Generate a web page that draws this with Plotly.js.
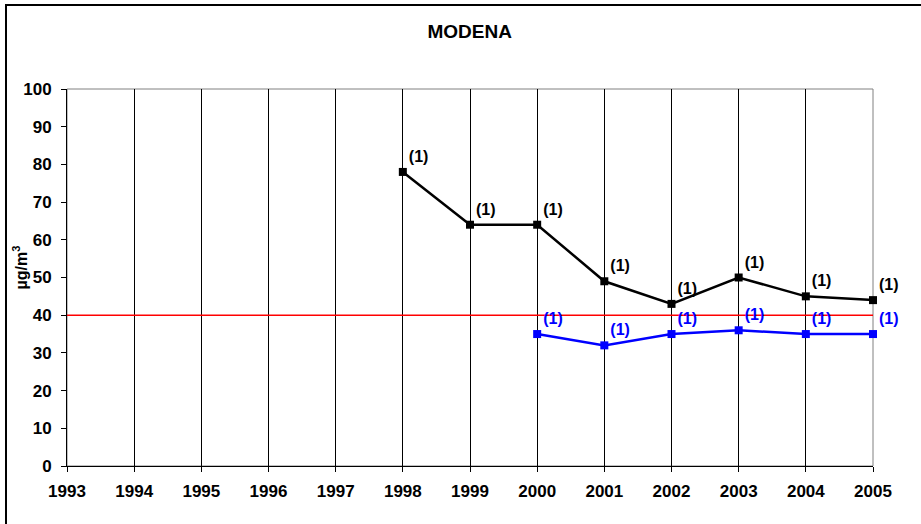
<!DOCTYPE html>
<html>
<head>
<meta charset="utf-8">
<script src="https://cdn.plot.ly/plotly-3.0.1.min.js"></script>
<style>
html,body{margin:0;padding:0;background:#fff;}
#chart{width:921px;height:524px;}
</style>
</head>
<body>
<div id="chart"></div>
<script>
const years = [1993,1994,1995,1996,1997,1998,1999,2000,2001,2002,2003,2004,2005];
const blackYears = [1998,1999,2000,2001,2002,2003,2004,2005];
const blackValues = [78,64,64,49,43,50,45,44];
const blackLabels = ['(1)','(1)','(1)','(1)','(1)','(1)','(1)','(1)'];
const blueYears = [2000,2001,2002,2003,2004,2005];
const blueValues = [35,32,35,36,35,35];
const blueLabels = ['(1)','(1)','(1)','(1)','(1)','(1)'];
const limitYears = [1993,2005];
const limitValues = [40,40];
const yTicks = [0,10,20,30,40,50,60,70,80,90,100];

const FAM = 'Liberation Sans, Arial, sans-serif';
const lblFont = {family:FAM, size:17, color:'#000', weight:'bold'};

const traces = [
  {x:limitYears, y:limitValues, mode:'lines', line:{color:'#FF0000', width:1.6}, hoverinfo:'skip', cliponaxis:false},
  {x:blackYears, y:blackValues, mode:'lines+markers+text', text:blackLabels, textposition:'top right',
   textfont:{family:FAM, size:16, color:'#000', weight:'bold'},
   line:{color:'#000', width:2.5}, marker:{symbol:'square', size:8, color:'#000'}, cliponaxis:false},
  {x:blueYears, y:blueValues, mode:'lines+markers+text', text:blueLabels, textposition:'top right',
   textfont:{family:FAM, size:16, color:'#0000FF', weight:'bold'},
   line:{color:'#0000FF', width:2.5}, marker:{symbol:'square', size:8, color:'#0000FF'}, cliponaxis:false}
];

const layout = {
  width:921, height:524,
  margin:{l:67, r:48, t:89, b:58},
  paper_bgcolor:'#fff', plot_bgcolor:'#fff',
  showlegend:false,
  font:{family:FAM, size:16, color:'#000'},
  title:{text:'<b>MODENA</b>', x:0.51, xanchor:'center', y:0.94, yanchor:'middle',
         font:{family:FAM, size:19, color:'#000'}},
  xaxis:{range:[1993,2005], tickvals:years, ticktext:years.map(y=>'<b>'+y+'</b>'),
         showgrid:true, gridcolor:'#000', gridwidth:1, zeroline:false,
         showline:true, linecolor:'#000', linewidth:1, mirror:false,
         ticks:'outside', ticklen:5, tickcolor:'#000', tickfont:lblFont, ticklabelstandoff:5, fixedrange:true},
  yaxis:{range:[0,100], tickvals:yTicks, ticktext:yTicks.map(v=>'<b>'+v+'</b>'),
         showgrid:false, zeroline:false, showline:true, linecolor:'#000', linewidth:1,
         ticks:'outside', ticklen:5, tickcolor:'#000', tickfont:lblFont, ticklabelstandoff:6,
         fixedrange:true},
  annotations:[
    {text:'<b>µg/m<sup>3</sup></b>', xref:'paper', yref:'paper', x:0, y:0.5, xshift:-47, yshift:10,
     xanchor:'center', yanchor:'middle', textangle:-90, showarrow:false,
     font:{family:FAM, size:16, color:'#000'}}
  ],
  shapes:[
    {type:'rect', xref:'paper', yref:'paper', x0:0, x1:1, y0:0, y1:1, line:{color:'#808080', width:1}, layer:'below'},
    {type:'rect', xref:'paper', yref:'paper', x0:-61/806, x1:(921-67+5)/806, y0:-60/377, y1:(89-5)/377+1, line:{color:'#000', width:2}}
  ]
};

Plotly.newPlot('chart', traces, layout, {displayModeBar:false, staticPlot:true});
</script>
</body>
</html>
